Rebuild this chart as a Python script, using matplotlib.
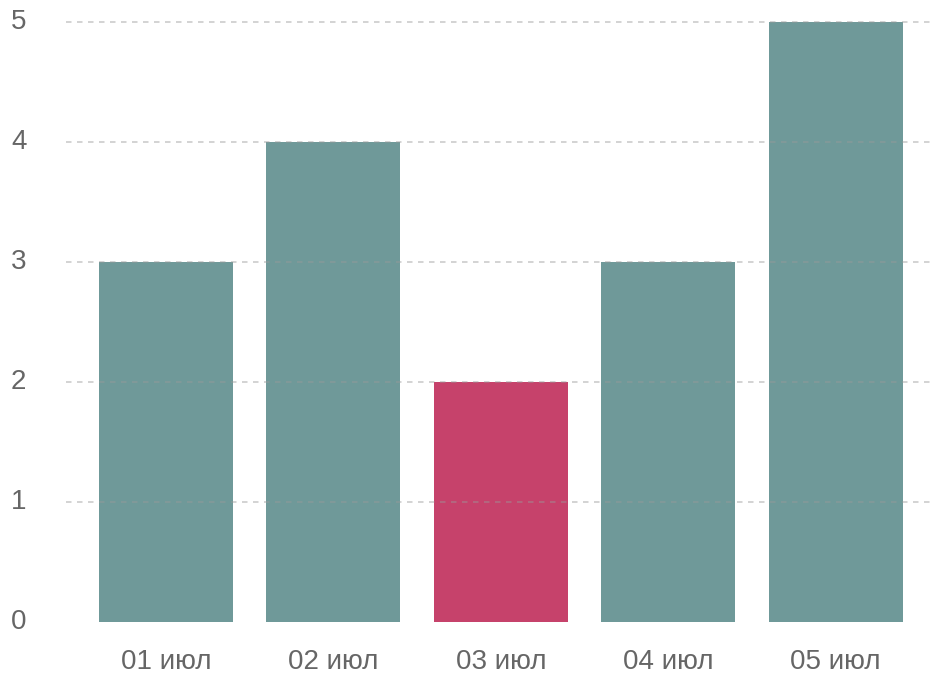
import matplotlib
matplotlib.use("Agg")
import matplotlib.pyplot as plt
from matplotlib.transforms import blended_transform_factory

labels = ["01 июл", "02 июл", "03 июл", "04 июл", "05 июл"]
values = [3, 4, 2, 3, 5]
highlight = 2  # index of the red bar
yticks = [0, 1, 2, 3, 4, 5]

teal = "#6f9999"
pink = "#c6426b"
colors = [pink if i == highlight else teal for i in range(len(values))]

plt.rcParams['font.family'] = ['Liberation Sans', 'DejaVu Sans']

fig = plt.figure(figsize=(9.31, 6.73), dpi=100)
W, H = 931, 673
ax = fig.add_axes([66 / W, (H - 621.7) / H, (931 - 66) / W, (621.7 - 10) / H])

x = list(range(len(values)))
ax.bar(x, values, width=0.8, color=colors, zorder=1)

ax.set_xlim(-0.597, 4.57)
ax.set_ylim(0, (621.7 - 10) / 119.9)

ax.set_xticks(x)
ax.set_xticklabels(labels)
ax.set_yticks(yticks)
ax.set_yticklabels([])

for spine in ax.spines.values():
    spine.set_visible(False)
ax.tick_params(length=0, labelsize=20, colors="#666666")
ax.tick_params(axis="x", pad=19.5)

# y labels left-aligned near the figure edge
trans = blended_transform_factory(fig.transFigure, ax.transData)
for yv in yticks:
    ax.text(11 / W, yv, str(yv), transform=trans, ha="left", va="center",
            fontsize=20, color="#666666", clip_on=False)

# dashed gridlines on top of bars, skip zero
for yv in yticks[1:]:
    ax.axhline(yv, color="#999999", alpha=0.5, lw=1.2, ls=(0, (3.3, 3.3)), zorder=3)

fig.savefig("out.png", dpi=100)
